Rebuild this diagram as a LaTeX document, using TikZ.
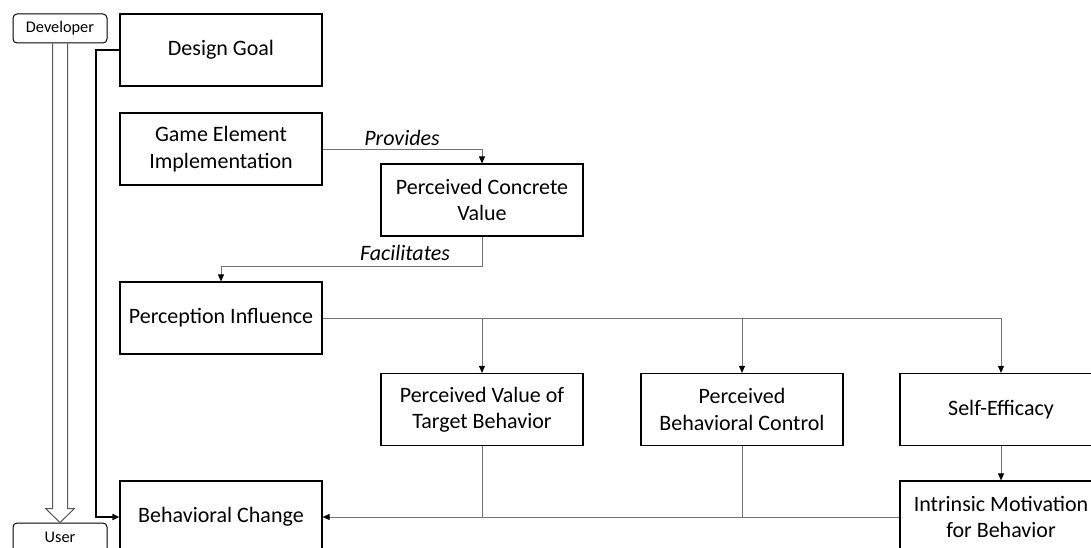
\documentclass[tikz,border=0pt]{standalone}
\usepackage{fontspec}
\setmainfont{Carlito}
\usetikzlibrary{arrows.meta,calc}
\begin{document}
\begin{tikzpicture}[x=1pt,y=-1pt,
  box/.style={draw=black, line width=1.2pt, minimum width=202pt, minimum height=72pt, inner sep=0pt, align=center, font=\fontsize{22}{26.5}\selectfont},
  role/.style={draw=black, line width=1pt, rounded corners=4pt, minimum width=94pt, minimum height=29pt, inner sep=0pt, font=\fontsize{16.3}{19}\selectfont},
  conn/.style={draw=black!55, line width=0.9pt, -{Triangle[length=7pt,width=6pt,color=black]}},
  plain/.style={draw=black!55, line width=0.9pt},
  thickconn/.style={draw=black, line width=2pt, -{Triangle[length=7pt,width=6pt]}},
  blockarrow/.style={draw=black!65, line width=1pt, line join=miter},
  lbl/.style={font=\fontsize{22}{26.5}\selectfont\itshape, inner sep=0pt}
]
\useasboundingbox (0,0) rectangle (1091,548);
\clip (0,0) rectangle (1091,548);

\node[role] (dev) at (60,28.5) {Developer};
\node[role] (user) at (60,537.5) {User};

\node[box] (goal) at (221,50) {Design Goal};
\node[box] (gei) at (221,149) {Game Element\\Implementation};
\node[box] (pcv) at (482,200) {Perceived Concrete\\Value};
\node[box] (pi) at (221,318) {Perception Influence};
\node[box] (pvtb) at (482,409.5) {Perceived Value of\\Target Behavior};
\node[box] (pbc) at (742,409.5) {Perceived\\Behavioral Control};
\node[box] (se) at (1001,409.5) {Self-Efficacy};
\node[box] (im) at (1001,517) {Intrinsic Motivation\\for Behavior};
\node[box] (bc) at (221,517) {Behavioral Change};

\node[lbl] (prov) at (402,138) {Provides};
\node[lbl] (fac) at (405,252.5) {Facilitates};

% developer to user block arrow
\draw[blockarrow] ($(dev.south)+(-7.5,0)$) -- ($(user.north)+(-7.5,-14)$) -- ($(user.north)+(-14.5,-14)$) -- (user.north) -- ($(user.north)+(14.5,-14)$) -- ($(user.north)+(7.5,-14)$) -- ($(dev.south)+(7.5,0)$);

% design goal to behavioral change
\draw[thickconn] (goal.west) -- ++(-23,0) |- (bc.west);

\draw[conn] (gei.east) -| (pcv.north);
\draw[conn] (pcv.south) -- ++(0,30) -| (pi.north);

\draw[plain] (pi.east) -- (se.north |- pi.east);
\draw[conn] (pvtb.north |- pi.east) -- (pvtb.north);
\draw[conn] (pbc.north |- pi.east) -- (pbc.north);
\draw[conn] (se.north |- pi.east) -- (se.north);

\draw[plain] (pvtb.south) -- (pvtb.south |- bc.east);
\draw[plain] (pbc.south) -- (pbc.south |- bc.east);
\draw[conn] (im.west) -- (bc.east);
\draw[conn] (se.south) -- (im.north);
\end{tikzpicture}
\end{document}
